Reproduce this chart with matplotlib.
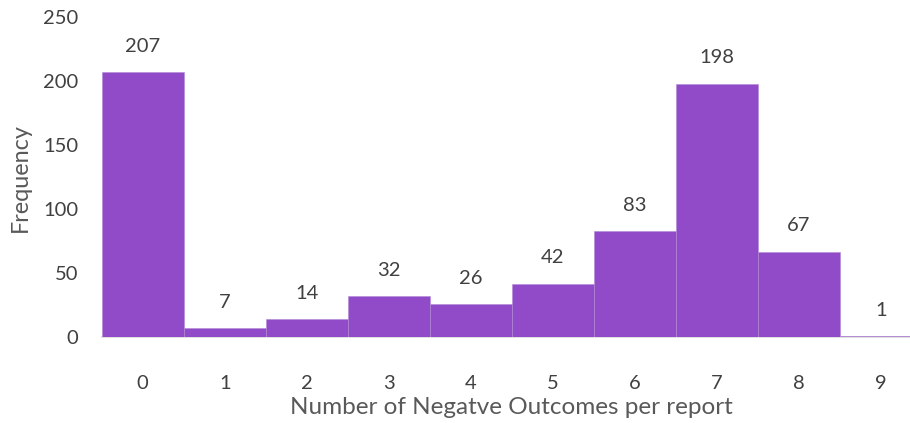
import matplotlib
matplotlib.use("Agg")
import matplotlib.pyplot as plt
import numpy as np

# Histogram of negative outcomes per report
outcomes = [0, 1, 2, 3, 4, 5, 6, 7, 8, 9]
frequency = [207, 7, 14, 32, 26, 42, 83, 198, 67, 1]
y_ticks = [0, 50, 100, 150, 200, 250]

bar_color = "#914BC8"
text_color = "#404040"
title_color = "#595959"

plt.rcParams["font.family"] = ["Lato", "DejaVu Sans"]

fig = plt.figure(figsize=(9.10, 4.23), dpi=100)
# axes spans slightly beyond the right edge of the canvas
ax = fig.add_axes([0.1118, 0.2026, 0.9011, 0.7565])

x = np.arange(len(outcomes))
ax.bar(x, frequency, width=1.0, color=bar_color, edgecolor="#B08AD6",
       linewidth=0.4, zorder=2)

for xi, v in zip(x, frequency):
    ax.annotate(str(v), xy=(xi, v), xytext=(0, 18.7), textcoords="offset points",
                ha="center", va="center", fontsize=14.5, color=text_color)

ax.set_xlim(-0.5, 9.5)
ax.set_ylim(0, 250)
ax.set_xticks(x)
ax.set_xticklabels([str(o) for o in outcomes])
ax.set_yticks(y_ticks)
ax.set_yticklabels([str(t) for t in y_ticks])

ax.tick_params(axis="both", length=0, labelsize=14.5, colors=text_color)
ax.tick_params(axis="x", pad=27)
ax.tick_params(axis="y", pad=17)

for side in ["top", "right", "left"]:
    ax.spines[side].set_visible(False)
ax.spines["bottom"].set_color("#D9D9D9")
ax.spines["bottom"].set_linewidth(1.2)
ax.spines["bottom"].set_zorder(1)

ax.set_xlabel("Number of Negatve Outcomes per report", fontsize=17.5,
              color=title_color, labelpad=4)
ax.set_ylabel("Frequency", fontsize=16.8, color=title_color, labelpad=9)

fig.savefig("out.png", dpi=100, facecolor="white")
